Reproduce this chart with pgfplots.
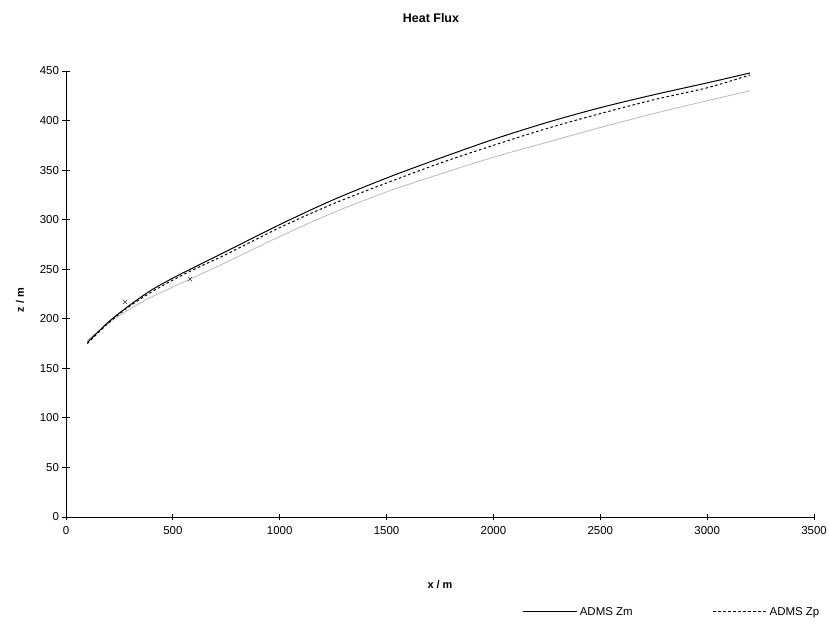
\documentclass[border=0pt]{standalone}
\usepackage{fontspec}
\setmainfont{Liberation Sans}
\usepackage{pgfplots}
\pgfplotsset{compat=1.18}
\begin{document}
\begin{tikzpicture}
\path[use as bounding box] (0,0) rectangle (830bp,624bp);
\begin{axis}[
  at={(66bp,107bp)}, anchor=south west,
  scale only axis, width=748bp, height=446bp,
  xmin=0, xmax=3500, ymin=0, ymax=450,
  axis x line=bottom, axis y line=left,
  axis line style={-, black, line width=0.9pt},
  xtick={0,500,...,3500}, ytick={0,50,...,450},
  tick align=center, major tick length=7bp,
  tick style={black, line width=0.8pt},
  /pgf/number format/assume math mode=true,
  /pgf/number format/1000 sep={},
  tick label style={font=\fontsize{11.5}{13}\selectfont},
  xticklabel style={yshift=-2bp},
  legend columns=2,
  legend style={draw=none, fill=none, at={(1.014,-0.213)}, anchor=east,
    font=\fontsize{11.5}{13}\selectfont,
    /tikz/every even column/.append style={column sep=78bp}},
  legend image code/.code={\draw[#1] (0bp,0bp) -- (54bp,0bp);},
  clip=false,
]
\addplot[gray!55, line width=0.8pt, smooth, forget plot] coordinates {
(100,178) (200,196) (300,210) (400,222) (500,232) (600,242) (750,257)
(1000,283) (1250,307) (1500,328) (1750,346) (2000,363) (2250,378)
(2500,393) (2750,407) (3000,420) (3200,430)};
\addplot[black, line width=1pt, smooth] coordinates {
(100,176) (200,197) (300,214) (400,229) (500,241) (600,252) (750,268)
(1000,295) (1250,320) (1500,342) (1750,362) (2000,381) (2250,398)
(2500,413) (2750,426) (3000,438) (3200,448)};
\addlegendentry{ADMS Zm}
\addplot[black, line width=1pt, smooth, dash pattern=on 2.5bp off 2.5bp] coordinates {
(100,175) (200,196) (300,213) (400,227) (500,239) (600,250) (750,265)
(1000,292) (1250,316) (1500,337) (1750,357) (2000,375) (2250,392)
(2500,407) (2750,421) (3000,433) (3200,446)};
\addlegendentry{ADMS Zp}
\addplot[only marks, mark=x, mark size=3bp, black, forget plot] coordinates {(276,217) (580,240)};
\end{axis}
\node[font=\bfseries\fontsize{12.5}{15}\selectfont] at (431bp,606bp) {Heat Flux};
\node[font=\bfseries\fontsize{11}{13}\selectfont, rotate=90] at (20bp,324bp) {z / m};
\node[font=\bfseries\fontsize{11}{13}\selectfont] at (440bp,39bp) {x / m};
\end{tikzpicture}
\end{document}
